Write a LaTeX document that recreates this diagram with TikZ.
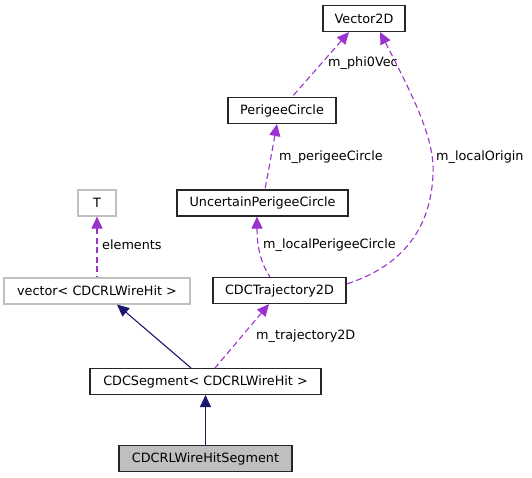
\documentclass[tikz,border=0pt]{standalone}
\usepackage{fontspec}
\setmainfont{DejaVu Sans}
\usetikzlibrary{arrows.meta}

\definecolor{usecol}{HTML}{9A32CD}
\definecolor{inhcol}{HTML}{191970}
\definecolor{boxgray}{HTML}{BFBFBF}

\tikzset{
  cls/.style={draw=black!85, line width=1.1pt, minimum height=26pt, inner sep=0pt,
              font=\fontsize{12.8}{15}\selectfont},
  ext/.style={cls, draw=boxgray},
  lbl/.style={anchor=west, inner sep=0pt, font=\fontsize{12.8}{15}\selectfont},
  member/.style={usecol, line width=1.1pt, dash pattern=on 6pt off 3.5pt,
                 {Triangle[length=12pt,width=11pt]}-},
  inherit/.style={inhcol, line width=1.1pt,
                  {Triangle[length=12pt,width=11pt]}-}
}

\begin{document}
\begin{tikzpicture}[x=1pt, y=-1pt]
    \useasboundingbox (0,0) rectangle (532,477);

    % Klassen
    \node[cls, minimum width=82pt]  (vec)  at (364,18.5)  {Vector2D};
    \node[cls, minimum width=108pt] (pc)   at (282,110.5) {PerigeeCircle};
    \node[cls, minimum width=171pt] (upc)  at (262.5,203) {UncertainPerigeeCircle};
    \node[ext, minimum width=38pt]  (T)    at (97,203)    {T};
    \node[ext, minimum width=186pt] (stdv) at (97,291)    {vector< CDCRLWireHit >};
    \node[cls, minimum width=133pt] (traj) at (279.5,290.5) {CDCTrajectory2D};
    \node[cls, minimum width=231pt] (seg)  at (205.5,381.5) {CDCSegment< CDCRLWireHit >};
    \node[cls, minimum width=173pt, fill=boxgray] (rlseg) at (205.5,458.5) {CDCRLWireHitSegment};

    % Mitglieder
    \draw[member] ([xshift=-15pt]vec.south) -- ([xshift=10pt]pc.north);
    \node[lbl] (lphi) at (328,63) {m\_phi0Vec};

    \draw[member] ([xshift=16pt]vec.south)
        .. controls (415,100) and (435,140) .. (433,175)
        .. controls (430,240) and (390,270) .. ([yshift=6.5pt]traj.east);
    \node[lbl] (lorig) at (436,157) {m\_localOrigin};

    \draw[member] ([xshift=-5pt]pc.south) -- ([xshift=2.5pt]upc.north);
    \node[lbl] (lperi) at (279,157) {m\_perigeeCircle};

    \draw[member] ([xshift=-5.5pt]upc.south)
        .. controls (257,250) and (262,265) .. ([xshift=-9.5pt]traj.north);
    \node[lbl] (llperi) at (263,245) {m\_localPerigeeCircle};

    \draw[member] (T.south) -- (stdv.north);
    \node[lbl] (lelem) at (102,245) {elements};

    \draw[member] ([xshift=-10.5pt]traj.south) -- ([xshift=9.5pt]seg.north);
    \node[lbl] (ltraj) at (256,336) {m\_trajectory2D};

    % Vererbung
    \draw[inherit] ([xshift=20pt]stdv.south) -- ([xshift=-14.5pt]seg.north);
    \draw[inherit] (seg.south) -- (rlseg.north);
\end{tikzpicture}
\end{document}
